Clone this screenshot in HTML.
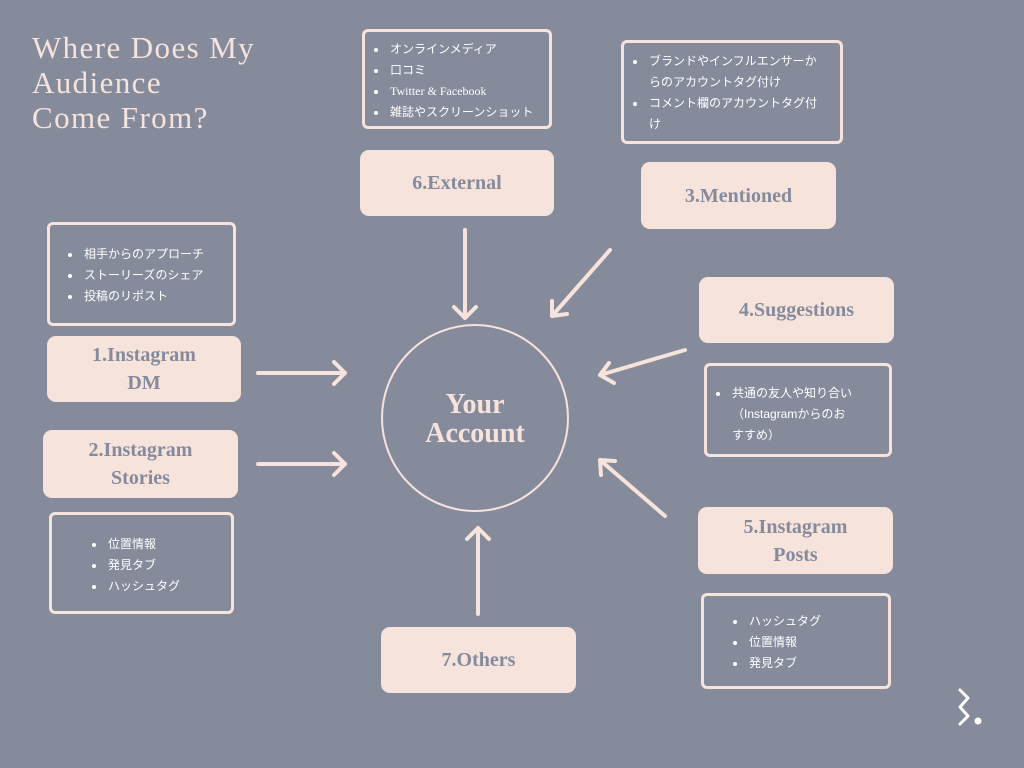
<!DOCTYPE html>
<html><head><meta charset="utf-8"><style>
*{margin:0;padding:0;box-sizing:border-box}
body{width:1024px;height:768px;background:#868b9c;position:relative;overflow:hidden;font-family:"Liberation Serif","Noto Sans CJK JP",serif}
.t{position:absolute;left:32px;top:30px;color:#f6e3dc;font-size:31px;line-height:35px;letter-spacing:1.4px;font-family:"Liberation Serif",serif}
.pk{position:absolute;background:#f6e3dc;border-radius:9px;color:#868b9c;font-weight:bold;font-size:20px;line-height:28px;display:flex;align-items:center;justify-content:center;text-align:center}
.ls{position:absolute;border:3px solid #f6e3dc;border-radius:6px;color:#fff;font-family:"Liberation Sans","Noto Sans CJK JP",sans-serif;font-size:12px;line-height:21px}
.ls ul{list-style:none}
.ls li{position:relative;padding-left:22px}
.ls li:before{content:"";position:absolute;left:6px;top:9px;width:4px;height:4px;border-radius:50%;background:#fff}
</style></head><body>
<div class="t">Where Does My<br>Audience<br>Come From?</div>

<div class="ls" style="left:362px;top:29px;width:190px;height:100px;padding:7px 0 0 3px"><ul><li>オンラインメディア</li><li>口コミ</li><li style="font-family:'Liberation Serif',serif">Twitter &amp; Facebook</li><li>雑誌やスクリーンショット</li></ul></div>
<div class="pk" style="left:360px;top:150px;width:194px;height:66px">6.External</div>

<div class="ls" style="left:621px;top:40px;width:222px;height:104px;padding:8px 20px 0 3px"><ul><li>ブランドやインフルエンサーからのアカウントタグ付け</li><li>コメント欄のアカウントタグ付け</li></ul></div>
<div class="pk" style="left:641px;top:162px;width:195px;height:67px">3.Mentioned</div>

<div class="ls" style="left:47px;top:222px;width:189px;height:104px;padding:19px 0 0 12px"><ul><li>相手からのアプローチ</li><li>ストーリーズのシェア</li><li>投稿のリポスト</li></ul></div>
<div class="pk" style="left:47px;top:336px;width:194px;height:66px">1.Instagram<br>DM</div>
<div class="pk" style="left:43px;top:430px;width:195px;height:68px">2.Instagram<br>Stories</div>
<div class="ls" style="left:49px;top:512px;width:185px;height:102px;padding:19px 0 0 34px"><ul><li>位置情報</li><li>発見タブ</li><li>ハッシュタグ</li></ul></div>

<div class="pk" style="left:699px;top:277px;width:195px;height:66px">4.Suggestions</div>
<div class="ls" style="left:704px;top:363px;width:188px;height:94px;padding:17px 32px 0 3px"><ul><li>共通の友人や知り合い（Instagramからのおすすめ）</li></ul></div>
<div class="pk" style="left:698px;top:507px;width:195px;height:67px">5.Instagram<br>Posts</div>
<div class="ls" style="left:701px;top:593px;width:190px;height:96px;padding:15px 0 0 23px"><ul><li>ハッシュタグ</li><li>位置情報</li><li>発見タブ</li></ul></div>

<div class="pk" style="left:381px;top:627px;width:195px;height:66px">7.Others</div>

<svg width="1024" height="768" style="position:absolute;left:0;top:0" fill="none" stroke="#f6e3dc" stroke-width="4" stroke-linecap="round" stroke-linejoin="round">
<circle cx="475" cy="418" r="93" stroke-width="2"/>
<g>
<path d="M465,230 V318 M454,307 L465,318 L476,307"/>
<path d="M610,250 L552,316 M552,301 L552,316 L567,314"/>
<path d="M685,350 L600,375 M609,363 L600,375 L614,383"/>
<path d="M258,373 H345 M334,362 L345,373 L334,384"/>
<path d="M258,464 H345 M334,453 L345,464 L334,475"/>
<path d="M665,516 L600,460 M615,461 L600,460 L601,475"/>
<path d="M478,614 V528 M467,539 L478,528 L489,539"/>
</g>
<path d="M960,690 L968,698 L960,707 L968,716 L960,724" stroke="#fff" stroke-width="3"/>
<circle cx="978" cy="721" r="3.5" fill="#fff" stroke="none"/>
</svg>
<div style="position:absolute;left:381px;top:390px;width:188px;text-align:center;color:#f6e3dc;font-weight:bold;font-size:28px;line-height:29px">Your<br>Account</div>
</body></html>
